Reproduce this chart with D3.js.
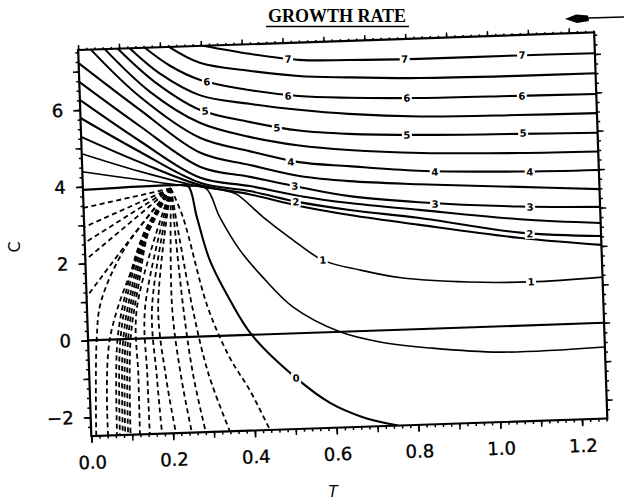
<!DOCTYPE html>
<html><head><meta charset="utf-8">
<script src="https://cdn.jsdelivr.net/npm/d3@7"></script>
<style>body{margin:0;background:#fff}svg{display:block}</style>
</head><body><svg id="chart" width="624" height="504"></svg>
<script>
// ---- axis data ----
const xDomain = [0, 1.262];
const yDomain = [-2.49, 7.56];
const xTickValues = [0, 0.2, 0.4, 0.6, 0.8, 1.0, 1.2];
const xTickLabels = ["0.0", "0.2", "0.4", "0.6", "0.8", "1.0", "1.2"];
const yTickValues = [-2, 0, 2, 4, 6];
const yTickLabels = ["\u22122", "0", "2", "4", "6"];
const titleText = "GROWTH RATE";
const xTitle = "T";
const yTitle = "C";

// ---- solid contours [T, C] ----
const c70 = [[0.305,7.56],[0.418,7.31],[0.538,7.11],[0.66,7.06],[0.83,7.03],[1.075,7.03],[1.262,7.02]];
const c65 = [[0.222,7.56],[0.296,7.12],[0.416,6.87],[0.536,6.69],[0.657,6.61],[0.83,6.53],[1.07,6.50],[1.262,6.50]];
const c60 = [[0.163,7.56],[0.223,7.07],[0.294,6.68],[0.414,6.37],[0.535,6.17],[0.656,6.08],[0.83,6.01],[1.07,5.98],[1.262,5.96]];
const c55 = [[0.126,7.56],[0.197,6.88],[0.293,6.28],[0.413,6.01],[0.534,5.81],[0.655,5.66],[0.83,5.53],[1.07,5.48],[1.262,5.46]];
const c50 = [[0.097,7.56],[0.185,6.66],[0.292,5.90],[0.412,5.54],[0.533,5.27],[0.654,5.14],[0.83,5.05],[1.07,4.99],[1.262,4.95]];
const c45 = [[0.065,7.56],[0.172,6.41],[0.291,5.56],[0.411,5.15],[0.532,4.88],[0.653,4.72],[0.83,4.58],[1.07,4.49],[1.262,4.46]];
const c40 = [[0.031,7.56],[0.147,6.29],[0.290,5.17],[0.410,4.78],[0.530,4.45],[0.652,4.30],[0.82,4.12],[1.065,4.01],[1.262,3.98]];
const c35 = [[0,7.22],[0.146,5.95],[0.290,4.78],[0.410,4.42],[0.530,4.09],[0.652,3.91],[0.82,3.77],[1.065,3.61],[1.262,3.48]];
const c30 = [[0,6.73],[0.144,5.53],[0.289,4.41],[0.409,4.11],[0.529,3.80],[0.651,3.52],[0.82,3.30],[1.065,3.10],[1.262,3.02]];
const c25 = [[0,6.26],[0.143,5.14],[0.288,4.13],[0.408,3.87],[0.528,3.57],[0.65,3.34],[0.82,3.10],[1.065,2.77],[1.262,2.60]];
const c20 = [[0,5.79],[0.142,4.86],[0.287,4.00],[0.407,3.74],[0.527,3.41],[0.65,3.16],[0.82,2.89],[1.065,2.42],[1.262,2.26]];
const c15 = [[0,5.30],[0.141,4.59],[0.286,3.94],[0.406,3.66],[0.527,3.31],[0.65,3.03],[0.82,2.71],[1.065,2.28],[1.262,2.03]];
const c10 = [[0,4.86],[0.140,4.35],[0.286,3.90],[0.335,3.80],[0.373,3.68],[0.437,3.06],[0.502,2.49],[0.580,1.88],[0.670,1.59],[0.770,1.35],[0.935,1.18],[1.087,1.13],[1.262,1.19]];
const c05 = [[0,4.39],[0.140,4.13],[0.25,3.93],[0.300,3.86],[0.332,3.09],[0.378,2.22],[0.432,1.49],[0.503,0.69],[0.616,0.0],[0.713,-0.30],[0.835,-0.50],[1.005,-0.67],[1.262,-0.63]];
const c00 = [[0,3.92],[0.23,3.96],[0.257,3.93],[0.276,3.11],[0.304,1.98],[0.350,0.925],[0.401,-0.01],[0.505,-1.16],[0.586,-1.84],[0.665,-2.24],[0.75,-2.49]];
const baseLine = [[0,0],[1.262,0]];

// ---- dashed (negative) contours [T, C] ----
const dL1 = [[0.215,3.88],[0,3.45]];
const dL2 = [[0.215,3.88],[0,2.95]];
const dL3 = [[0.215,3.88],[0,2.54]];
const dL4 = [[0.215,3.88],[0,2.09]];
const dL5 = [[0.215,3.88],[0.10,2.45],[0,1.13]];
const d10 = [[0.215,3.88],[0.10,2.4],[0.035,1.0],[0.021,0],[0.012,-2.49]];
const d09 = [[0.215,3.88],[0.13,2.2],[0.053,0],[0.041,-2.49]];
const b1 = [[0.215,3.88],[0.148,2.8],[0.104,1.5],[0.072,0],[0.063,-2.49]];
const b2 = [[0.215,3.88],[0.150,2.8],[0.109,1.5],[0.079,0],[0.070,-2.49]];
const b3 = [[0.215,3.88],[0.152,2.8],[0.115,1.5],[0.086,0],[0.077,-2.49]];
const b4 = [[0.215,3.88],[0.154,2.8],[0.120,1.5],[0.092,0],[0.083,-2.49]];
const b5 = [[0.215,3.88],[0.156,2.8],[0.125,1.5],[0.098,0],[0.090,-2.49]];
const b6 = [[0.215,3.88],[0.158,2.8],[0.130,1.5],[0.104,0],[0.096,-2.49]];
const d08 = [[0.215,3.88],[0.122,0.8],[0.120,-1.0],[0.119,-2.49]];
const d07 = [[0.215,3.88],[0.142,0.8],[0.142,-1.0],[0.143,-2.49]];
const d06 = [[0.215,3.88],[0.159,0.8],[0.165,-1.0],[0.173,-2.49]];
const d05 = [[0.215,3.88],[0.174,0.8],[0.187,-1.0],[0.207,-2.49]];
const d04 = [[0.215,3.88],[0.208,0.8],[0.224,-1.0],[0.246,-2.49]];
const d03 = [[0.215,3.88],[0.235,0.8],[0.254,-1.0],[0.280,-2.49]];
const d02 = [[0.215,3.88],[0.257,0.8],[0.292,-1.0],[0.339,-2.49]];
const d01 = [[0.215,3.88],[0.242,3.12],[0.295,0.76],[0.345,-0.58],[0.391,-1.44],[0.437,-2.49]];

// ---- contour labels [T, C, text] ----
const contourLabels = [
  [0.512,7.14,"7"],[0.797,7.04,"7"],[1.084,7.04,"7"],
  [0.312,6.62,"6"],[0.509,6.18,"6"],[0.799,6.02,"6"],[1.080,5.97,"6"],
  [0.305,5.86,"5"],[0.479,5.36,"5"],[0.796,5.06,"5"],[1.080,5.01,"5"],
  [0.510,4.46,"4"],[0.861,4.07,"4"],[1.093,3.99,"4"],
  [0.518,3.83,"3"],[0.859,3.24,"3"],[1.091,3.08,"3"],
  [0.519,3.42,"2"],[1.088,2.38,"2"],
  [0.580,1.88,"1"],[1.087,1.13,"1"],
  [0.505,-1.16,"0"]
];

const solidThick = [c70,c65,c60,c55,c50,c45,c40,c35,c30,c25,c20,c15,c00,baseLine];
const solidThin = [c10,c05];
const dashed = [dL1,dL2,dL3,dL4,dL5,d10,d09,b1,b2,b3,b4,b5,b6,d08,d07,d06,d05,d04,d03,d02,d01];

// ---- layout ----
const L = 84.6, T0 = 41.15, W = 516.3, H = 386.2;
const svg = d3.select("#chart");
svg.append("rect").attr("width",624).attr("height",504).attr("fill","#fff");

const x = d3.scaleLinear().domain(xDomain).range([L, L+W]);
const y = d3.scaleLinear().domain(yDomain).range([T0+H, T0]);

const g = svg.append("g").attr("transform","rotate(-1.95,342.75,234.25)");

svg.append("defs").append("clipPath").attr("id","clip")
  .append("rect").attr("x",L).attr("y",T0).attr("width",W).attr("height",H);

const line = d3.line().x(d=>x(d[0])).y(d=>y(d[1])).curve(d3.curveCatmullRom.alpha(0.5));
const plot = g.append("g").attr("clip-path","url(#clip)");

plot.selectAll("path.solid").data(solidThick).join("path")
  .attr("class","solid").attr("d",line).attr("fill","none")
  .attr("stroke","#000").attr("stroke-width",2.1);
plot.selectAll("path.thin").data(solidThin).join("path")
  .attr("class","thin").attr("d",line).attr("fill","none")
  .attr("stroke","#000").attr("stroke-width",1.6);
plot.selectAll("path.dash").data(dashed).join("path")
  .attr("class","dash").attr("d",line).attr("fill","none")
  .attr("stroke","#000").attr("stroke-width",1.8).attr("stroke-dasharray","5,3.5");

// contour labels
const lab = plot.selectAll("g.lab").data(contourLabels).join("g").attr("class","lab")
  .attr("transform",d=>`translate(${x(d[0])},${y(d[1])})`);
lab.append("rect").attr("x",-5).attr("y",-5).attr("width",10).attr("height",10).attr("fill","#fff");
lab.append("text").text(d=>d[2]).attr("text-anchor","middle").attr("dy","0.36em")
  .attr("font-family","DejaVu Sans").attr("font-weight","bold").attr("font-size",10).attr("fill","#000");

// frame
g.append("rect").attr("x",L).attr("y",T0).attr("width",W).attr("height",H)
  .attr("fill","none").attr("stroke","#000").attr("stroke-width",2.2);

// ticks
const xMinor = d3.range(0, 1.2601, 0.02);
const xMajor = d3.range(0, 1.2601, 0.1);
const yMinor = d3.range(-2.25, 7.56, 0.25);
const yMajor = d3.range(-2, 7.56, 1);
function tickAxis(fn, scale, vals, size){ return fn(scale).tickValues(vals).tickSize(size).tickFormat(""); }
function style(sel){ sel.select(".domain").remove(); sel.selectAll("line").attr("stroke","#000").attr("stroke-width",1.5); }

const bottomY = T0+H, rightX = L+W;
[[xMinor,3],[xMajor,6]].forEach(([v,s])=>{
  g.append("g").attr("transform",`translate(0,${bottomY})`).call(tickAxis(d3.axisBottom,x,v,s)).call(style);
  g.append("g").attr("transform",`translate(0,${T0})`).call(tickAxis(d3.axisTop,x,v,s-1)).call(style);
});
[[yMinor,3],[yMajor,6]].forEach(([v,s])=>{
  g.append("g").attr("transform",`translate(${L},0)`).call(tickAxis(d3.axisLeft,y,v,s)).call(style);
  g.append("g").attr("transform",`translate(${rightX},0)`).call(tickAxis(d3.axisRight,y,v,s)).call(style);
});

// tick labels
const xl = g.append("g").attr("transform",`translate(0,${bottomY})`)
  .call(d3.axisBottom(x).tickValues(xTickValues).tickFormat((d,i)=>xTickLabels[i]).tickSize(7).tickPadding(13));
xl.select(".domain").remove();
xl.selectAll("line").attr("stroke","#000").attr("stroke-width",1.5);
xl.selectAll("text").attr("font-family","DejaVu Sans").attr("font-size",18).attr("fill","#000")
  .attr("stroke","#000").attr("stroke-width",0.35);

const yl = g.append("g").attr("transform",`translate(${L},0)`)
  .call(d3.axisLeft(y).tickValues(yTickValues).tickFormat((d,i)=>yTickLabels[i]).tickSize(7).tickPadding(10));
yl.select(".domain").remove();
yl.selectAll("line").attr("stroke","#000").attr("stroke-width",1.5);
yl.selectAll("text").attr("font-family","DejaVu Sans").attr("font-size",18).attr("fill","#000")
  .attr("stroke","#000").attr("stroke-width",0.35);

// axis titles
svg.append("text").text(xTitle).attr("x",333).attr("y",497).attr("text-anchor","middle")
  .attr("font-family","DejaVu Sans").attr("font-style","italic").attr("font-size",15).attr("fill","#000");
svg.append("text").text(yTitle).attr("transform","translate(20,247) rotate(-90)").attr("text-anchor","middle")
  .attr("font-family","DejaVu Sans").attr("font-size",16).attr("fill","#000");

// title
svg.append("text").text(titleText).attr("x",337).attr("y",22).attr("text-anchor","middle")
  .attr("font-family","Liberation Serif").attr("font-weight","bold").attr("font-size",18).attr("fill","#000");
svg.append("line").attr("x1",266).attr("x2",409).attr("y1",26.5).attr("y2",26.5).attr("stroke","#000").attr("stroke-width",1.6);

// pointer mark at top right
svg.append("path").attr("d","M565,19 L576,14.5 L588,15.5 L589,21 L577,23 Z").attr("fill","#000");
svg.append("line").attr("x1",588).attr("x2",624).attr("y1",18).attr("y2",17).attr("stroke","#000").attr("stroke-width",1.5);
</script></body></html>
